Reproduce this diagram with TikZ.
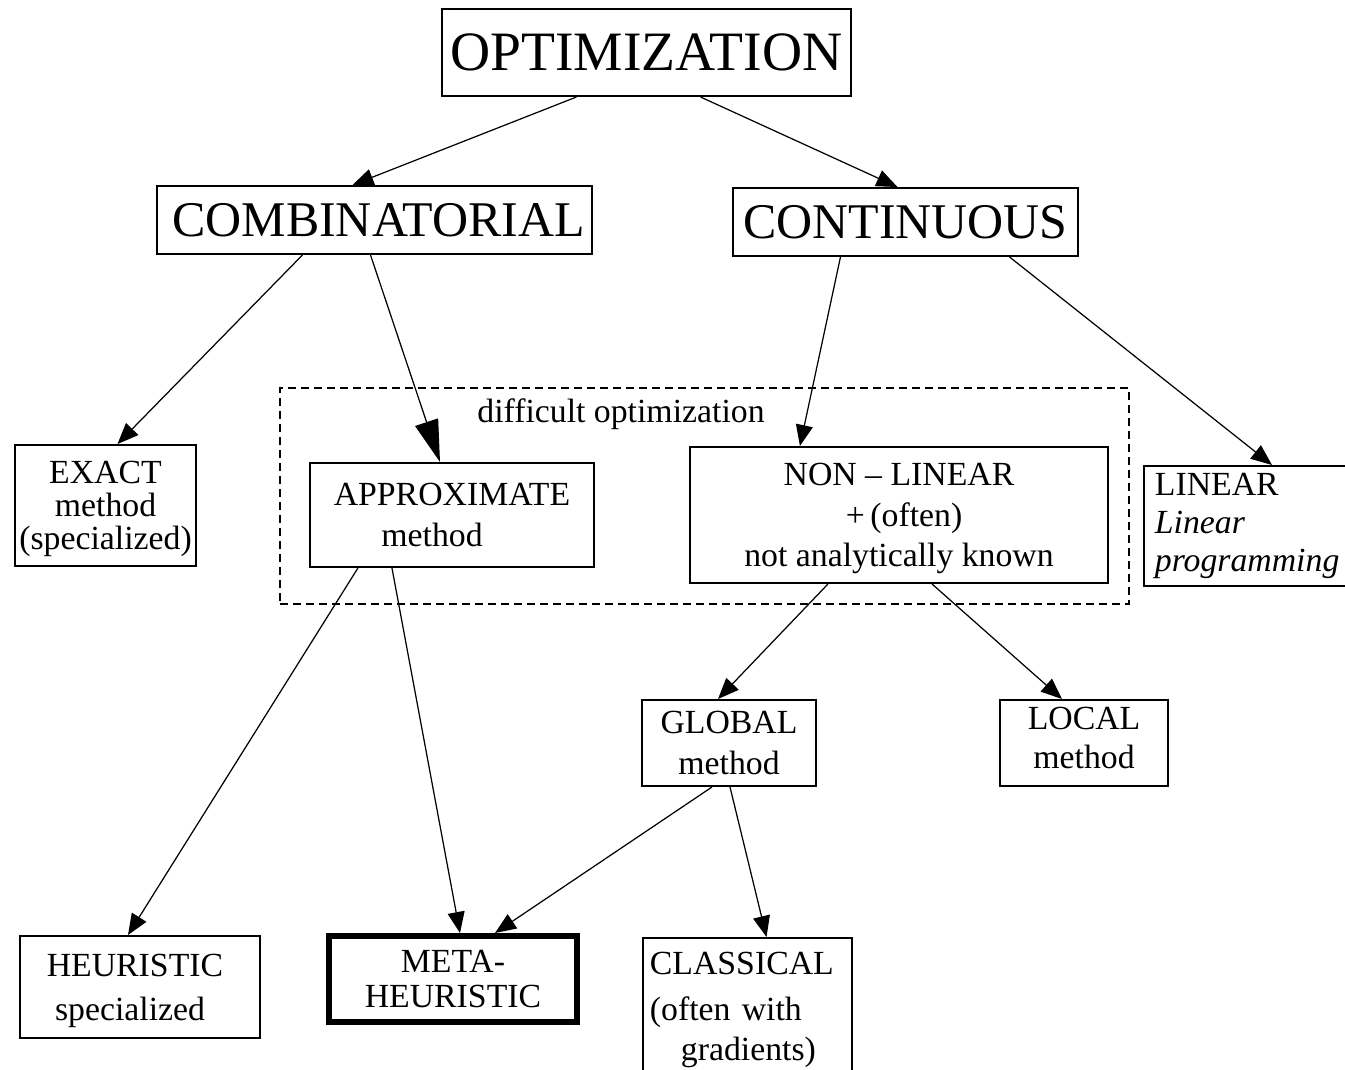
\documentclass[tikz,border=0pt]{standalone}
\usepackage{fontspec}
\setmainfont{Liberation Serif}
\usetikzlibrary{arrows.meta}

\tikzset{
  box/.style={draw, rectangle, line width=0.55pt, align=center, inner sep=0pt, font=\fontsize{9.6}{11.6}\selectfont},
  arr/.style={->, >={Triangle[length=0.21cm,width=0.17cm]}, line width=0.35pt},
  bigarr/.style={->, >={Triangle[length=0.42cm,width=0.24cm]}, line width=0.35pt},
}

\begin{document}
\begin{tikzpicture}[x=0.01cm, y=-0.01cm]
  \useasboundingbox (0,0) rectangle (1345,1069);

  \node[draw, rectangle, dashed, dash pattern=on 0.08cm off 0.05cm, line width=0.45pt, minimum width=8.49cm, minimum height=2.16cm] (hard) at (704.5,496) {};
  \node[font=\fontsize{9.6}{11.6}\selectfont] (hardlabel) at (621,414) {difficult optimization};

  \node[box, minimum width=4.09cm, minimum height=0.87cm, text depth=0pt, font=\fontsize{15.8}{19}\selectfont] (opt) at (646.5,52.5) {OPTIMIZATION};
  \node[box, minimum width=4.35cm, minimum height=0.68cm, font=\fontsize{14.2}{17}\selectfont] (comb) at (374.5,220) {\hspace*{0.08cm}COMBINATORIAL};
  \node[box, minimum width=3.45cm, minimum height=0.68cm, font=\fontsize{14.2}{17}\selectfont] (cont) at (905.5,222) {CONTINUOUS};

  \node[box, minimum width=1.81cm, minimum height=1.21cm, text depth=-0.05cm, font=\fontsize{9.6}{9.4}\selectfont] (exact) at (105.5,505.5) {EXACT\\method\\(specialized)};
  \node[box, minimum width=2.84cm, minimum height=1.04cm, text depth=0pt] (approx) at (452,515) {APPROXIMATE\\method\hspace*{0.4cm}};
  \node[box, minimum width=4.18cm, minimum height=1.36cm, text depth=-0.02cm] (nonlin) at (899,515) {NON -- LINEAR\\\hspace*{0.1cm}+\,(often)\\not analytically known};
  \node[box, align=left, text width=2.0cm, inner xsep=0.11cm, minimum height=1.2cm, font=\fontsize{9.6}{10.8}\selectfont] (linear) at (1255,526) {LINEAR\\\textit{Linear}\\\textit{programming}};

  \node[box, minimum width=1.74cm, minimum height=0.86cm] (global) at (729,743) {GLOBAL\\method};
  \node[box, minimum width=1.68cm, minimum height=0.86cm, text depth=0.1cm, font=\fontsize{9.6}{11}\selectfont] (local) at (1084,743) {LOCAL\\method};

  \node[box, minimum width=2.4cm, minimum height=1.02cm, text depth=-0.06cm, font=\fontsize{9.6}{12.5}\selectfont] (heur) at (140,987) {HEURISTIC\hspace*{0.1cm}\\specialized\hspace*{0.2cm}};
  \node[box, line width=1.7pt, minimum width=2.48cm, minimum height=0.86cm, font=\fontsize{9.6}{10}\selectfont] (meta) at (453,979) {META-\\HEURISTIC};
  \node[box, align=left, text width=1.95cm, inner xsep=0.07cm, minimum height=1.44cm, font=\fontsize{9.6}{11.4}\selectfont] (classic) at (747.5,1010) {CLASSICAL\\[0.06cm](often with\\\hspace*{0.31cm}gradients)};

  \draw[arr] ([xshift=-0.7cm]opt.south) -- ([xshift=-0.22cm]comb.north);
  \draw[arr] ([xshift=0.54cm]opt.south) -- ([xshift=-0.08cm]cont.north);
  \draw[arr] ([xshift=-0.72cm]comb.south) -- ([xshift=0.12cm]exact.north);
  \draw[bigarr] ([xshift=-0.04cm]comb.south) -- ([xshift=-0.12cm]approx.north);
  \draw[arr] ([xshift=-0.65cm]cont.south) -- ([xshift=-0.99cm]nonlin.north);
  \draw[arr] ([xshift=1.04cm]cont.south) -- ([xshift=0.17cm]linear.north);
  \draw[arr] ([xshift=-0.94cm]approx.south) -- ([xshift=-0.12cm]heur.north);
  \draw[arr] ([xshift=-0.6cm]approx.south) -- ([xshift=0.07cm]meta.north);
  \draw[arr] ([xshift=-0.71cm]nonlin.south) -- ([xshift=-0.11cm]global.north);
  \draw[arr] ([xshift=0.33cm]nonlin.south) -- ([xshift=-0.22cm]local.north);
  \draw[arr] ([xshift=-0.17cm]global.south) -- ([xshift=0.42cm]meta.north);
  \draw[arr] ([xshift=0.01cm]global.south) -- ([xshift=0.19cm]classic.north);
\end{tikzpicture}
\end{document}
